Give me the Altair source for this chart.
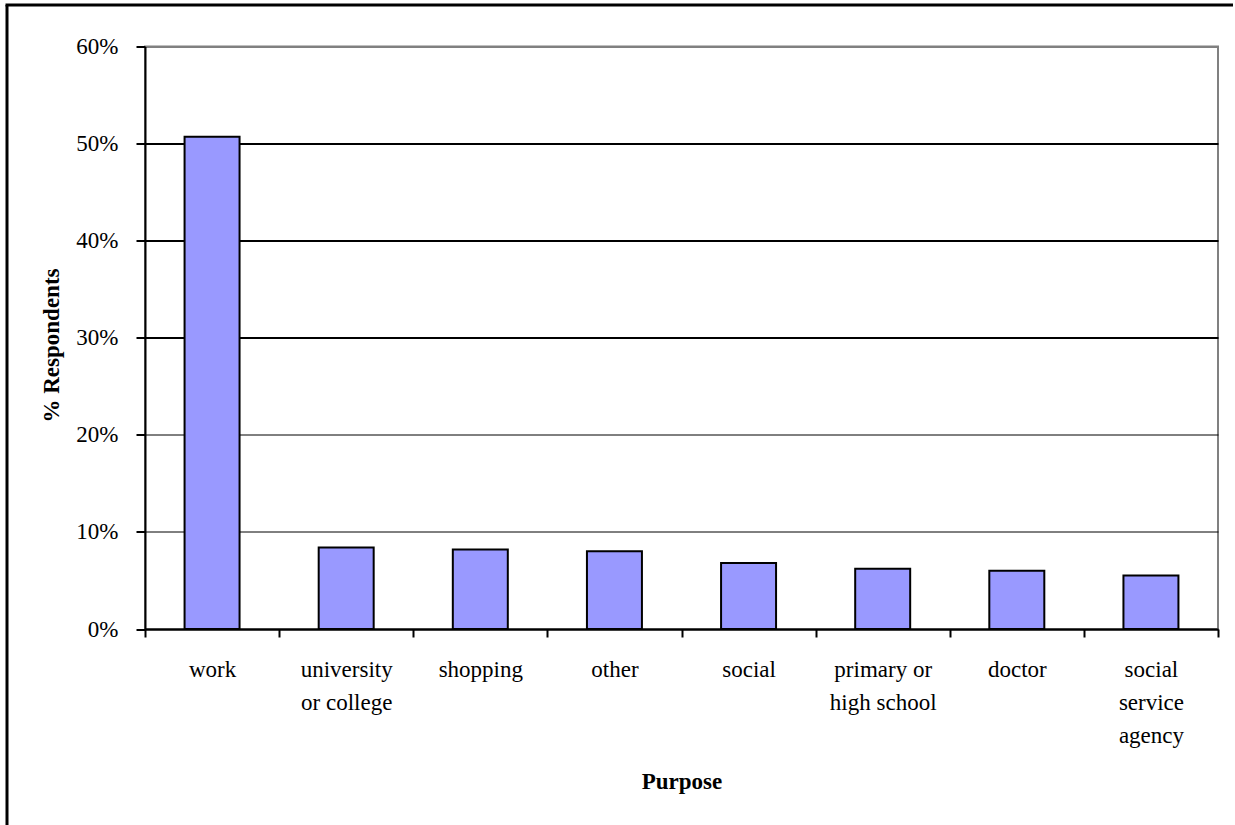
import altair as alt
import pandas as pd

categories = ["work", "university or college", "shopping", "other", "social",
              "primary or high school", "doctor", "social service agency"]
label_lines = ["work", "university|or college", "shopping", "other", "social",
               "primary or|high school", "doctor", "social|service|agency"]
values = [50.7, 8.4, 8.2, 8.0, 6.8, 6.2, 6.0, 5.5]
y_ticks = [0, 10, 20, 30, 40, 50, 60]

df = pd.DataFrame({"purpose": categories, "pct": values})

# multi-line x labels
expr = "datum.value"
for cat, lab in reversed(list(zip(categories, label_lines))):
    expr = f"datum.value == '{cat}' ? split('{lab}', '|') : ({expr})"

FONT = "Liberation Serif"
FS = 23

bars = alt.Chart(df).mark_bar(
    width=alt.RelativeBandSize(0.41),
    color="#9999FF", stroke="black", strokeWidth=2
).encode(
    x=alt.X("purpose:N", sort=categories,
            scale=alt.Scale(paddingInner=0, paddingOuter=0),
            axis=alt.Axis(
                title="Purpose", labelAngle=0, tickBand="extent",
                tickSize=8, tickWidth=2, tickColor="black",
                domainColor="black", domainWidth=2,
                labelExpr=expr, labelFont=FONT, labelFontSize=FS,
                labelColor="black", labelPadding=21.5, labelLineHeight=33,
                labelBaseline="top",
                titleFont=FONT, titleFontSize=FS, titleFontWeight="bold",
                titleColor="black", titleX=536.5, titleY=159,
                titleBaseline="alphabetic", titleAlign="center", grid=False)),
    y=alt.Y("pct:Q", scale=alt.Scale(domain=[0, 60], nice=False),
            axis=alt.Axis(
                title="% Respondents", values=y_ticks,
                labelExpr="datum.value + '%'",
                tickSize=9, tickWidth=2, tickColor="black",
                domainColor="black", domainWidth=2,
                labelFont=FONT, labelFontSize=FS, labelColor="black",
                labelPadding=18,
                grid=True,
                gridColor={"condition": {"test": "datum.value >= 60", "value": "#808080"}, "value": "black"},
                gridWidth={"condition": {"test": "datum.value >= 30", "value": 2}, "value": 1},
                titleFont=FONT, titleFontSize=FS, titleFontWeight="bold",
                titleColor="black", titleAngle=270, titleX=-87, titleY=298.5,
                titleBaseline="alphabetic", titleAlign="center")),
)

frame_data = alt.Data(values=[{"k": 1}])
left_rule = alt.Chart(frame_data).mark_rule(color="black", strokeWidth=3).encode(
    x=alt.value(-138), y=alt.value(-41.5), y2=alt.value(780))
top_rule = alt.Chart(frame_data).mark_rule(color="black", strokeWidth=3).encode(
    x=alt.value(-139.5), x2=alt.value(1088), y=alt.value(-41.5))

chart = alt.layer(bars, left_rule, top_rule).properties(
    width=1073, height=582.5,
    autosize=alt.AutoSizeParams(type="none"),
    padding={"left": 145, "top": 46.5, "right": 17, "bottom": 196},
    background="white",
).configure_view(stroke="#808080", strokeWidth=2)

chart.save("out.html", embed_options={"renderer": "svg", "actions": False})
